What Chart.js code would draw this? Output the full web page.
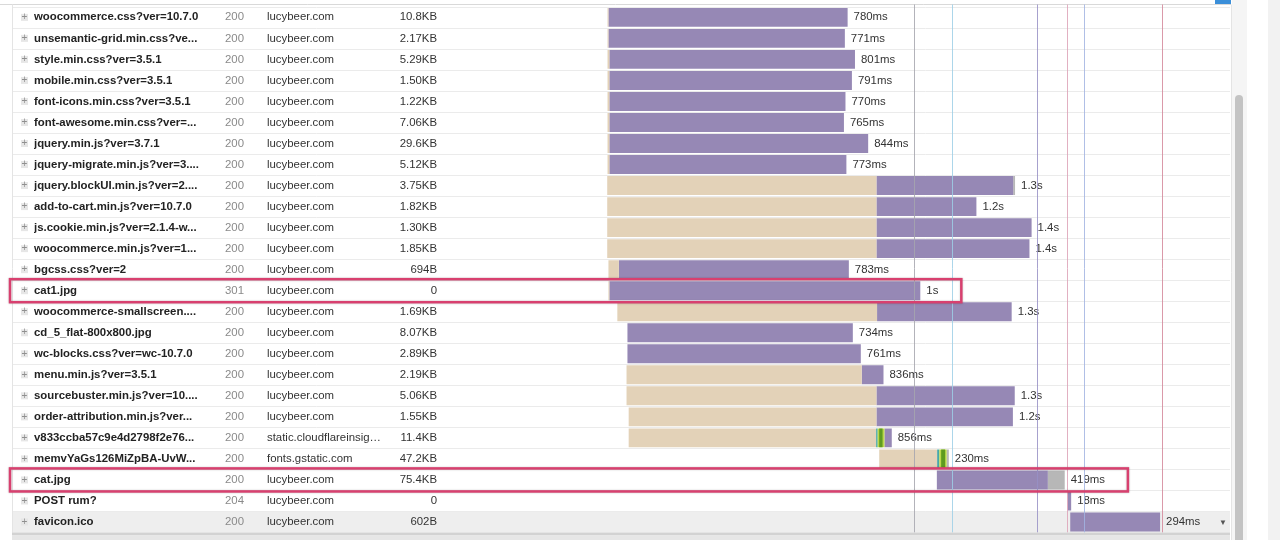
<!DOCTYPE html>
<html>
<head>
<meta charset="utf-8">
<script src="https://cdn.jsdelivr.net/npm/chart.js@4.4.1/dist/chart.umd.min.js"></script>
<style>
  html, body { margin: 0; padding: 0; background: #fff; }
  #wrap { width: 1280px; height: 540px; position: relative; }
</style>
</head>
<body>
<div id="wrap"><canvas id="waterfall" width="1280" height="540"></canvas></div>
<script>
// requests (one row each)
const names = [
  'woocommerce.css?ver=10.7.0', 'unsemantic-grid.min.css?ve...', 'style.min.css?ver=3.5.1',
  'mobile.min.css?ver=3.5.1', 'font-icons.min.css?ver=3.5.1', 'font-awesome.min.css?ver=...',
  'jquery.min.js?ver=3.7.1', 'jquery-migrate.min.js?ver=3....', 'jquery.blockUI.min.js?ver=2....',
  'add-to-cart.min.js?ver=10.7.0', 'js.cookie.min.js?ver=2.1.4-w...', 'woocommerce.min.js?ver=1...',
  'bgcss.css?ver=2', 'cat1.jpg', 'woocommerce-smallscreen....', 'cd_5_flat-800x800.jpg',
  'wc-blocks.css?ver=wc-10.7.0', 'menu.min.js?ver=3.5.1', 'sourcebuster.min.js?ver=10....',
  'order-attribution.min.js?ver...', 'v833ccba57c9e4d2798f2e76...', 'memvYaGs126MiZpBA-UvW...',
  'cat.jpg', 'POST rum?', 'favicon.ico',
];
const statuses = [
  '200', '200', '200', '200', '200', '200', '200', '200', '200', '200', '200', '200',
  '200', '301', '200', '200', '200', '200', '200', '200', '200', '200', '200', '204', '200',
];
const domains = [
  'lucybeer.com', 'lucybeer.com', 'lucybeer.com', 'lucybeer.com', 'lucybeer.com', 'lucybeer.com',
  'lucybeer.com', 'lucybeer.com', 'lucybeer.com', 'lucybeer.com', 'lucybeer.com', 'lucybeer.com',
  'lucybeer.com', 'lucybeer.com', 'lucybeer.com', 'lucybeer.com', 'lucybeer.com', 'lucybeer.com',
  'lucybeer.com', 'lucybeer.com', 'static.cloudflareinsig\u2026', 'fonts.gstatic.com',
  'lucybeer.com', 'lucybeer.com', 'lucybeer.com',
];
const sizes = [
  '10.8KB', '2.17KB', '5.29KB', '1.50KB', '1.22KB', '7.06KB', '29.6KB', '5.12KB', '3.75KB',
  '1.82KB', '1.30KB', '1.85KB', '694B', '0', '1.69KB', '8.07KB', '2.89KB', '2.19KB', '5.06KB',
  '1.55KB', '11.4KB', '47.2KB', '75.4KB', '0', '602B',
];
const durations = [
  '780ms', '771ms', '801ms', '791ms', '770ms', '765ms', '844ms', '773ms', '1.3s', '1.2s',
  '1.4s', '1.4s', '783ms', '1s', '1.3s', '734ms', '761ms', '836ms', '1.3s', '1.2s',
  '856ms', '230ms', '419ms', '18ms', '294ms',
];

// timing phases in ms, [start, end] per row (null = none)
const blocked = [
  [530, 533], [530, 533], [530, 536], [530, 536], [530, 536], [530, 536], [530, 536], [530, 536],
  [529, 1407], [529, 1407], [529, 1407], [529, 1407], [533, 567], [533, 536], [562, 1409],
  null, null, [592, 1359], [592, 1407], [599, 1407], [599, 1406], [1416, 1605], null, null, null,
];
const dns = [
  null, null, null, null, null, null, null, null, null, null, null, null, null, null, null,
  null, null, null, null, null, [1406, 1411], [1605, 1612], null, null, null,
];
const connect = [
  null, null, null, null, null, null, null, null, null, null, null, null, null, null, null,
  null, null, null, null, null, [1411, 1433], [1612, 1636], null, null, null,
];
const ssl = [
  null, null, null, null, null, null, null, null, null, null, null, null, null, null, null,
  null, null, null, null, null, [1416, 1427], [1618, 1631], null, null, null,
];
const waiting = [
  [533, 1313], [533, 1304], [536, 1337], [536, 1327], [536, 1306], [536, 1301], [536, 1380],
  [536, 1309], [1407, 1853], [1407, 1733], [1407, 1913], [1407, 1906], [567, 1317], [536, 1550],
  [1409, 1848], [595, 1330], [595, 1356], [1359, 1430], [1407, 1858], [1407, 1852], [1433, 1457],
  null, [1604, 1966], [2031, 2042], [2039, 2332],
];
const receiving = [
  null, null, null, null, null, null, null, null, [1853, 1859], null, null, null, null, null, null,
  null, null, null, null, null, null, [1636, 1643], [1966, 2021], null, null,
];

// page event markers (ms) and their colours
const markerTimes = [1528, 1653, 1930, 2030, 2084, 2338];
const markerColors = ['#a6a6ae', '#9dcfe6', '#9890c6', '#dda2b7', '#a2b4e2', '#d3879a'];
const highlighted = [13, 22];
const hoveredRow = 24;
const timelineMax = 2560;

const FONT = '"Liberation Sans", Arial, Helvetica, sans-serif';
const FONT_SIZE = 11.4;

function rowEnd(i) {
  let end = 0;
  [blocked, dns, connect, ssl, waiting, receiving].forEach((s) => {
    if (s[i] && s[i][1] > end) end = s[i][1];
  });
  return end;
}

const tablePlugin = {
  id: 'tablePlugin',
  beforeDraw(chart) {
    const { ctx, chartArea: area, scales: { y } } = chart;
    const rowH = y.height / names.length;
    ctx.save();
    ctx.fillStyle = '#fff';
    ctx.fillRect(0, 0, chart.width, chart.height);
    // hovered row background
    const top = y.getPixelForValue(hoveredRow) - rowH / 2;
    ctx.fillStyle = '#eeeeee';
    ctx.fillRect(12, top, area.right - 12, rowH);
    // row separators
    ctx.strokeStyle = '#ebebeb';
    ctx.lineWidth = 1;
    for (let i = 0; i <= names.length; i++) {
      const yy = Math.round(area.top + i * rowH) + 0.5;
      ctx.beginPath();
      ctx.moveTo(12, yy);
      ctx.lineTo(area.right, yy);
      ctx.stroke();
    }
    // header edge and table borders
    ctx.strokeStyle = '#d9d9d9';
    ctx.beginPath();
    ctx.moveTo(0, 4.5);
    ctx.lineTo(area.right + 1, 4.5);
    ctx.stroke();
    ctx.strokeStyle = '#e4e4e4';
    ctx.beginPath();
    ctx.moveTo(12.5, 4.5);
    ctx.lineTo(12.5, area.bottom);
    ctx.moveTo(area.right + 1.5, 4.5);
    ctx.lineTo(area.right + 1.5, 540);
    ctx.stroke();
    ctx.restore();
  },
  afterDraw(chart) {
    const { ctx, chartArea: area, scales: { x, y } } = chart;
    const rowH = y.height / names.length;
    ctx.save();
    ctx.textBaseline = 'middle';
    names.forEach((n, i) => {
      const cy = y.getPixelForValue(i);
      // expand icon
      ctx.fillStyle = '#e6e6e6';
      ctx.fillRect(21, cy - 3.5, 7, 7);
      ctx.fillStyle = '#8f8f8f';
      ctx.font = `10px ${FONT}`;
      ctx.textAlign = 'center';
      ctx.fillText('+', 24.5, cy);
      ctx.font = `${FONT_SIZE}px ${FONT}`;
      ctx.textAlign = 'left';
      ctx.fillStyle = '#8a8a8a';
      ctx.fillText(statuses[i], 225, cy);
      ctx.fillStyle = '#333';
      ctx.fillText(domains[i], 267, cy);
      ctx.textAlign = 'right';
      ctx.fillText(sizes[i], 437, cy);
      ctx.textAlign = 'left';
      ctx.fillText(durations[i], x.getPixelForValue(rowEnd(i)) + 6, cy);
    });

    // event markers on top of the bars
    markerTimes.forEach((t, k) => {
      const px = Math.round(x.getPixelForValue(t)) + 0.5;
      ctx.strokeStyle = markerColors[k];
      ctx.globalAlpha = 0.85;
      ctx.lineWidth = 1;
      ctx.beginPath();
      ctx.moveTo(px, 4.5);
      ctx.lineTo(px, area.bottom);
      ctx.stroke();
    });
    ctx.globalAlpha = 1;

    // annotation boxes
    highlighted.forEach((i) => {
      const cy = y.getPixelForValue(i);
      ctx.font = `${FONT_SIZE}px ${FONT}`;
      const right = x.getPixelForValue(rowEnd(i)) + 6 + ctx.measureText(durations[i]).width + 23;
      ctx.strokeStyle = '#d8406f';
      ctx.lineWidth = 2.5;
      ctx.shadowColor = 'rgba(0,0,0,0.25)';
      ctx.shadowBlur = 2;
      ctx.strokeRect(10, cy - rowH / 2 - 1, right - 10, rowH + 2);
      ctx.shadowBlur = 0;
    });

    // bottom edge, scrollbar, top-right button
    ctx.fillStyle = '#d2d2d2';
    ctx.fillRect(12, area.bottom, area.right - 12, 3);
    ctx.fillStyle = '#e6e6e6';
    ctx.fillRect(12, area.bottom + 3, area.right - 12, 540 - area.bottom - 3);
    ctx.fillStyle = '#f5f5f5';
    ctx.fillRect(area.right + 2, 0, 15, 540);
    ctx.fillStyle = '#c3c3c3';
    ctx.beginPath();
    ctx.roundRect(area.right + 5, 95, 8, 460, 4);
    ctx.fill();
    ctx.fillStyle = '#f2f2f2';
    ctx.fillRect(1268, 0, 12, 540);
    ctx.fillStyle = '#3b8fd9';
    ctx.fillRect(1215, 0, 16, 4);
    ctx.fillStyle = '#555';
    ctx.font = `8px ${FONT}`;
    ctx.textAlign = 'center';
    ctx.fillText('\u25BC', 1223, y.getPixelForValue(hoveredRow) + 1);
    ctx.restore();
  },
};

const phase = (label, data, color) => ({
  label, data, backgroundColor: color, borderWidth: 0,
  grouped: false, barPercentage: 0.9, categoryPercentage: 1,
});

new Chart(document.getElementById('waterfall'), {
  type: 'bar',
  data: {
    labels: names,
    // first dataset is painted last (on top)
    datasets: [
      phase('SSL', ssl, '#5e9b1f'),
      phase('Connect', connect, '#b9d84b'),
      phase('DNS', dns, '#48a7a6'),
      phase('Blocked', blocked, '#e3d2b8'),
      phase('Waiting', waiting, '#9688b5'),
      phase('Receiving', receiving, '#b7b7b7'),
    ],
  },
  options: {
    indexAxis: 'y',
    responsive: false,
    animation: false,
    events: [],
    layout: { padding: { left: 34, right: 50, top: 5.5, bottom: 7.5 } },
    plugins: { legend: { display: false }, tooltip: { enabled: false } },
    scales: {
      x: { type: 'linear', min: 0, max: timelineMax, display: false },
      y: {
        grid: { display: false },
        border: { display: false },
        ticks: {
          crossAlign: 'far',
          autoSkip: false,
          padding: 0,
          color: '#222',
          font: { family: FONT, size: FONT_SIZE, weight: 'bold' },
        },
        afterFit(scale) { scale.width = 411; },
      },
    },
  },
  plugins: [tablePlugin],
});
</script>
</body>
</html>
